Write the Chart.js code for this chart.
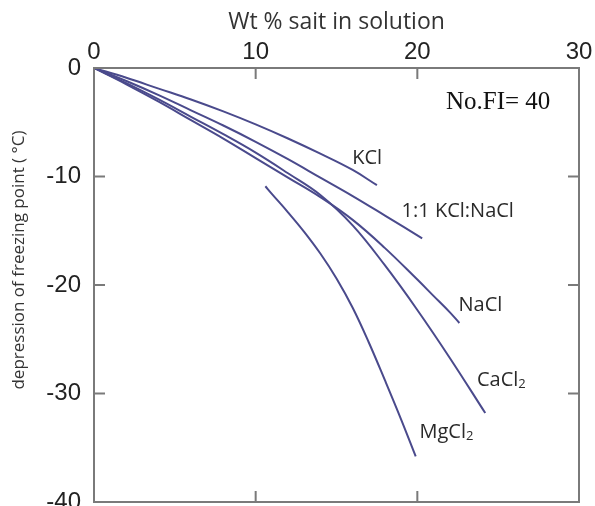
<!DOCTYPE html>
<html>
<head>
<meta charset="utf-8">
<script src="https://cdn.jsdelivr.net/npm/chart.js@4.4.0/dist/chart.umd.min.js"></script>
<style>
  html, body { margin: 0; padding: 0; background: #fff; }
</style>
</head>
<body>
<canvas id="fpChart" width="595" height="506"></canvas>
<script>
// freezing point depression curves (wt % salt vs °C)
const kclX = [0, 2, 4, 6, 8, 10, 12, 14, 16, 17.5];
const kclY = [0, -0.9, -1.9, -2.9, -4.0, -5.2, -6.5, -7.9, -9.4, -10.8];

const mixX = [0, 2, 4, 6, 8, 10, 12, 14, 16, 18, 20.3];
const mixY = [0, -1.2, -2.5, -3.9, -5.3, -6.8, -8.4, -10.1, -11.8, -13.6, -15.7];

const naclX = [0, 2, 4, 6, 8, 10, 12, 14, 16, 18, 20, 21, 22, 22.6];
const naclY = [0, -1.5, -3.1, -4.8, -6.5, -8.3, -10.1, -11.9, -14.0, -16.6, -19.5, -21.0, -22.5, -23.5];

const cacl2X = [0, 2, 4, 6, 8, 10, 12, 14, 16, 18, 20, 22, 24.2];
const cacl2Y = [0, -1.4, -2.9, -4.5, -6.1, -7.8, -9.7, -11.7, -14.5, -18.2, -22.3, -26.7, -31.8];

const mgcl2X = [10.6, 11, 12, 13, 14, 15, 16, 17, 18, 19, 19.9];
const mgcl2Y = [-10.9, -11.6, -13.3, -15.1, -17.1, -19.4, -22.1, -25.3, -28.8, -32.4, -35.8];

const xTicks = [0, 10, 20, 30];
const yTicks = [0, -10, -20, -30, -40];

const lineColor = '#4a4a8c';
const frameColor = '#7a7a7a';

const toPoints = (xs, ys) => xs.map((x, i) => ({ x: x, y: ys[i] }));

const makeSet = (label, xs, ys) => ({
    label: label,
    data: toPoints(xs, ys),
    borderColor: lineColor,
    borderWidth: 2,
    pointRadius: 0,
    fill: false,
    tension: 0.4
});

// curve labels, placed in data units
const curveLabels = [
    { text: 'KCl', sub: '', x: 16.9, y: -8.3 },
    { text: '1:1 KCl:NaCl', sub: '', x: 22.5, y: -13.2 },
    { text: 'NaCl', sub: '', x: 23.9, y: -21.9 },
    { text: 'CaCl', sub: '2', x: 25.2, y: -28.8 },
    { text: 'MgCl', sub: '2', x: 21.8, y: -33.6 }
];

const framePlugin = {
    id: 'frame',
    afterDraw(chart) {
        const { ctx, chartArea: a, scales } = chart;
        const xs = scales.x, ys = scales.y;
        const tl = 11;
        ctx.save();
        ctx.strokeStyle = frameColor;
        ctx.lineWidth = 2;
        ctx.strokeRect(a.left, a.top, a.right - a.left, a.bottom - a.top);
        ctx.beginPath();
        xTicks.slice(1, -1).forEach(v => {
            const px = xs.getPixelForValue(v);
            ctx.moveTo(px, a.top); ctx.lineTo(px, a.top + tl);
            ctx.moveTo(px, a.bottom); ctx.lineTo(px, a.bottom - tl);
        });
        yTicks.slice(1, -1).forEach(v => {
            const py = ys.getPixelForValue(v);
            ctx.moveTo(a.left, py); ctx.lineTo(a.left + tl, py);
            ctx.moveTo(a.right, py); ctx.lineTo(a.right - tl, py);
        });
        ctx.stroke();

        // y axis title
        ctx.fillStyle = '#333';
        ctx.font = '17px "Open Sans"';
        ctx.textAlign = 'center';
        ctx.textBaseline = 'middle';
        ctx.save();
        ctx.translate(19, 260);
        ctx.rotate(-Math.PI / 2);
        ctx.fillText('depression of freezing point ( \u00b0C)', 0, 0);
        ctx.restore();

        // curve labels
        ctx.fillStyle = '#2a2a2a';
        ctx.textBaseline = 'middle';
        curveLabels.forEach(l => {
            const px = xs.getPixelForValue(l.x);
            const py = ys.getPixelForValue(l.y);
            ctx.font = '20px "Open Sans"';
            const w1 = ctx.measureText(l.text).width;
            ctx.font = '13px "Open Sans"';
            const w2 = l.sub ? ctx.measureText(l.sub).width : 0;
            let left = px - (w1 + w2) / 2;
            ctx.textAlign = 'left';
            ctx.font = '20px "Open Sans"';
            ctx.fillText(l.text, left, py);
            if (l.sub) {
                ctx.font = '13px "Open Sans"';
                ctx.fillText(l.sub, left + w1, py + 4);
            }
        });

        // sample count note
        ctx.font = '25px "Liberation Serif"';
        ctx.fillStyle = '#111';
        ctx.textAlign = 'center';
        ctx.fillText('No.FI= 40', xs.getPixelForValue(25.0), ys.getPixelForValue(-3.2));
        ctx.restore();
    }
};

new Chart(document.getElementById('fpChart'), {
    type: 'line',
    data: {
        datasets: [
            makeSet('KCl', kclX, kclY),
            makeSet('1:1 KCl:NaCl', mixX, mixY),
            makeSet('NaCl', naclX, naclY),
            makeSet('CaCl2', cacl2X, cacl2Y),
            makeSet('MgCl2', mgcl2X, mgcl2Y)
        ]
    },
    options: {
        responsive: false,
        animation: false,
        layout: { padding: { left: 0, top: 0, right: 16, bottom: 4 } },
        plugins: {
            legend: { display: false },
            tooltip: { enabled: false }
        },
        scales: {
            x: {
                type: 'linear',
                position: 'top',
                min: 0,
                max: 30,
                afterFit: s => { s.height = 68; s.paddingLeft = 0; s.paddingRight = 0; },
                afterBuildTicks: s => { s.ticks = xTicks.map(v => ({ value: v })); },
                grid: { display: false, drawTicks: false },
                border: { display: false },
                ticks: {
                    padding: 1,
                    color: '#222',
                    font: { family: 'Liberation Sans', size: 24 }
                },
                title: {
                    display: true,
                    text: 'Wt % sait in solution',
                    color: '#333',
                    font: { family: 'Open Sans', size: 23 },
                    padding: { top: 9, bottom: 0 }
                }
            },
            y: {
                type: 'linear',
                min: -40,
                max: 0,
                afterFit: s => { s.width = 94; s.paddingTop = 0; s.paddingBottom = 0; },
                afterBuildTicks: s => { s.ticks = yTicks.map(v => ({ value: v })); },
                grid: { display: false, drawTicks: false },
                border: { display: false },
                ticks: {
                    padding: 13,
                    color: '#222',
                    font: { family: 'Liberation Sans', size: 24 }
                }
            }
        }
    },
    plugins: [framePlugin]
});
</script>
</body>
</html>
